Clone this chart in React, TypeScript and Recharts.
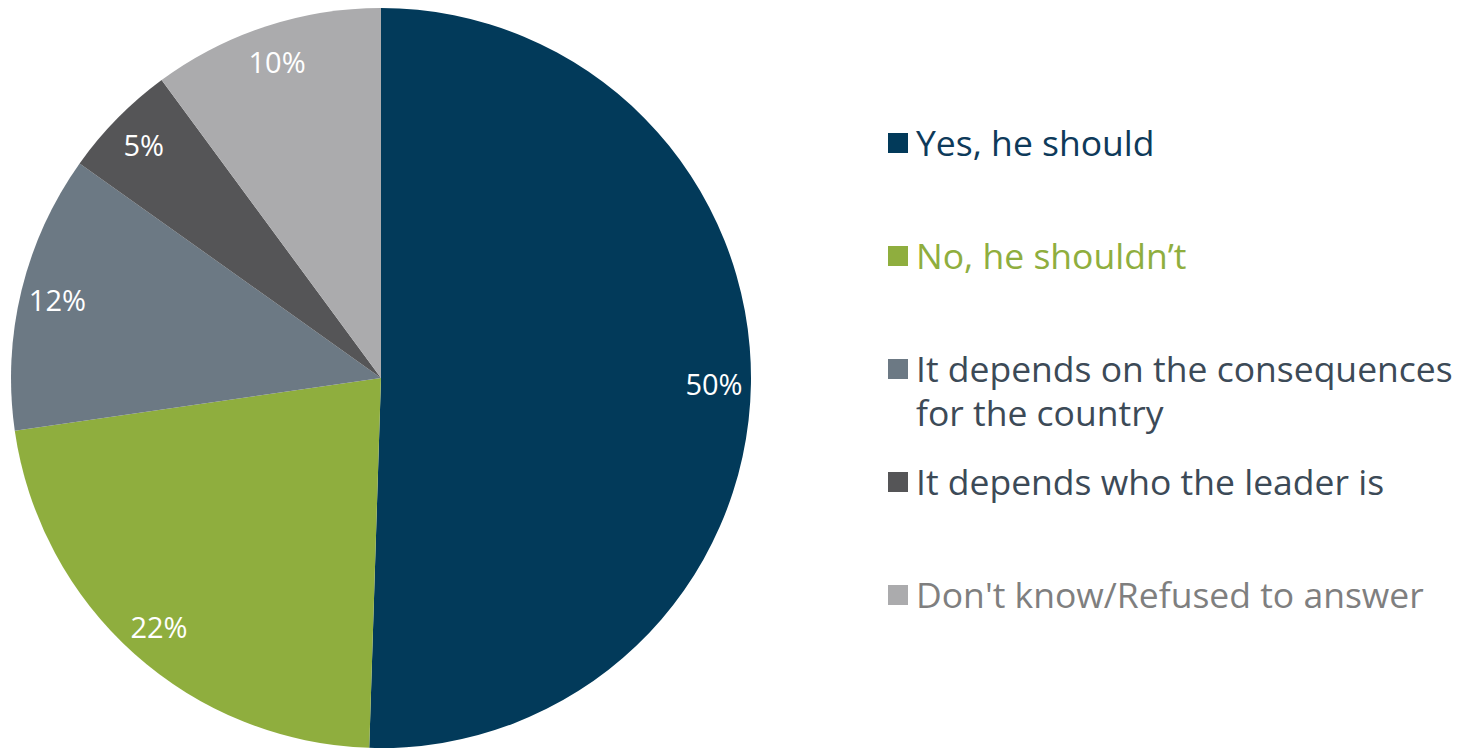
import React from "react";
import { PieChart, Pie, Cell, Legend } from "recharts";

const categories = [
  "Yes, he should",
  "No, he shouldn\u2019t",
  "It depends on the consequences for the country",
  "It depends who the leader is",
  "Don't know/Refused to answer",
];
const values = [50, 22, 12, 5, 10];
const sliceColors = ["#023A5A", "#8FAE3E", "#6C7984", "#555557", "#ABABAD"];
const legendTextColors = ["#0E3A5A", "#8FAE3E", "#3C4A57", "#3C4A57", "#7F7F7F"];

const data = categories.map((name, i) => ({ name, value: values[i] }));

const RAD = Math.PI / 180;

const renderLabel = (props: any) => {
  const { cx, cy, midAngle, outerRadius, value } = props;
  const r = outerRadius * 0.9;
  const x = cx + r * Math.cos(-midAngle * RAD);
  const y = cy + r * Math.sin(-midAngle * RAD);
  return (
    <text
      x={x}
      y={y}
      fill="#FFFFFF"
      textAnchor="middle"
      dominantBaseline="central"
      fontFamily="'Open Sans', sans-serif"
      fontSize={29}
    >
      {value}%
    </text>
  );
};

const renderLegend = () => (
  <div style={{ fontFamily: "'Open Sans', sans-serif", fontSize: 35.5 }}>
    {categories.map((c, i) => (
      <div
        key={c}
        style={{
          height: 113,
          display: "flex",
          alignItems: "flex-start",
          color: legendTextColors[i],
          lineHeight: "44px",
        }}
      >
        <div
          style={{
            width: 20,
            height: 20,
            background: sliceColors[i],
            marginTop: 13,
            marginRight: 8,
            flex: "0 0 auto",
          }}
        />
        <div style={{ width: 545 }}>{c}</div>
      </div>
    ))}
  </div>
);

export default function App() {
  return (
    <div style={{ margin: "-8px 0 0 -8px", width: 1465, height: 749 }}>
      <PieChart width={1465} height={749} margin={{ top: 0, right: 0, bottom: 0, left: 0 }}>
        <Pie
          data={data}
          dataKey="value"
          nameKey="name"
          cx={381}
          cy={378}
          outerRadius={370}
          startAngle={90}
          endAngle={-270}
          stroke="none"
          label={renderLabel}
          labelLine={false}
          isAnimationActive={false}
        >
          {data.map((d, i) => (
            <Cell key={d.name} fill={sliceColors[i]} />
          ))}
        </Pie>
        <Legend
          content={renderLegend}
          wrapperStyle={{ left: 888, top: 120, width: 577 }}
        />
      </PieChart>
    </div>
  );
}
